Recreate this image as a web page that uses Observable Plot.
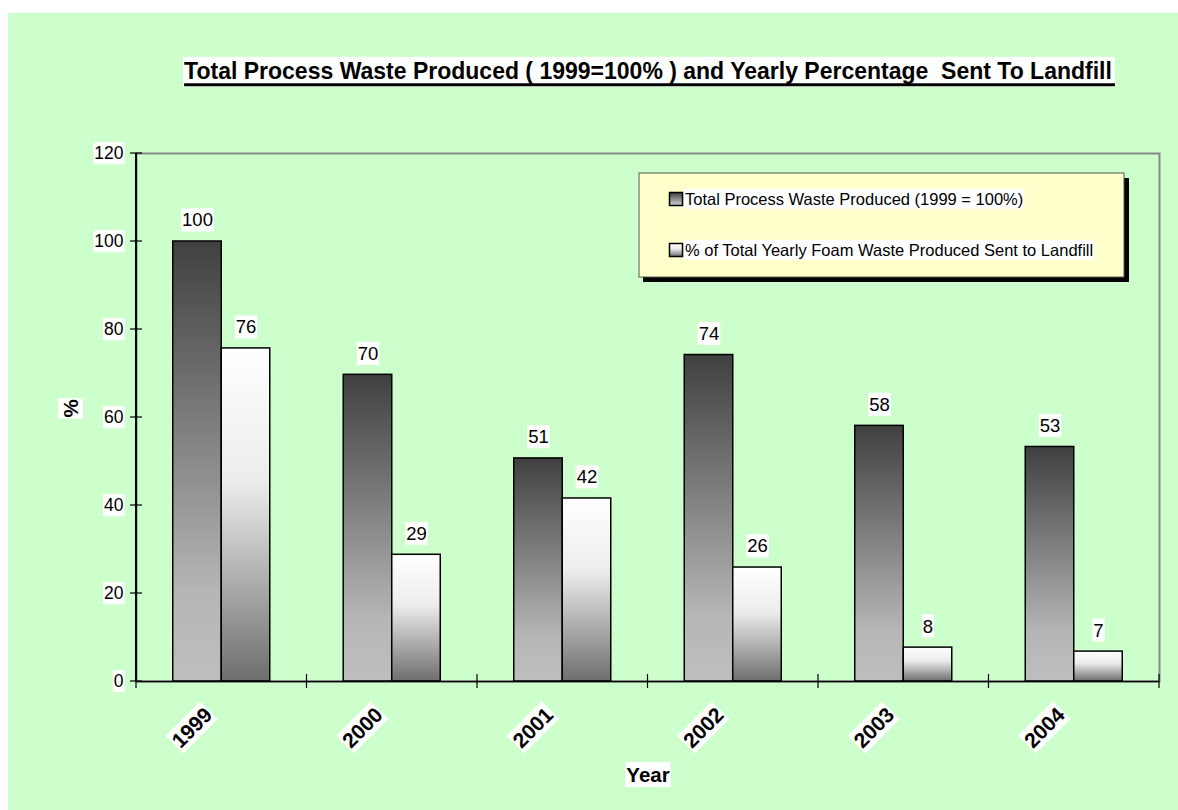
<!DOCTYPE html>
<html><head><meta charset="utf-8">
<script src="https://cdn.jsdelivr.net/npm/d3@7"></script>
<script src="https://cdn.jsdelivr.net/npm/@observablehq/plot@0.6"></script>
<style>body{margin:0;background:#fff;} svg{display:block;}</style>
</head><body><div id="chart"></div>
<script>
const years = ["1999", "2000", "2001", "2002", "2003", "2004"];
const totalWaste = [100, 69.7, 50.7, 74.2, 58.1, 53.3];
const landfill = [75.7, 28.8, 41.6, 25.9, 7.7, 6.8];
const yTicks = [0, 20, 40, 60, 80, 100, 120];
const seriesNames = ["Total Process Waste Produced (1999 = 100%)", "% of Total Yearly Foam Waste Produced Sent to Landfill"];
const titleText = "Total Process Waste Produced ( 1999=100% ) and Yearly Percentage  Sent To Landfill";
const xLabel = "Year";
const yLabel = "%";

const rows = years.flatMap((y, i) => [
  {year: y, series: "total", value: totalWaste[i]},
  {year: y, series: "landfill", value: landfill[i]}
]);
const fmt = d3.format(".0f");
const totalRows = rows.filter(d => d.series === "total");
const landRows = rows.filter(d => d.series === "landfill");
const FONT = "Liberation Sans, Arial, Helvetica, sans-serif";

const chart = Plot.plot({
  width: 1178,
  height: 810,
  marginTop: 153,
  marginRight: 19,
  marginBottom: 129,
  marginLeft: 136,
  style: {fontFamily: FONT, fontSize: "17px", background: "transparent", color: "black"},
  x: {type: "band", domain: years, paddingInner: 0.431, paddingOuter: 0.2155, round: false, axis: null},
  y: {domain: [0, 120], axis: null},
  marks: [
    Plot.frame({stroke: "#888888", strokeWidth: 2}),
    Plot.barY(totalRows, {x: "year", y: "value", fill: "url(#gDark)", stroke: "black", strokeWidth: 1.5, insetRight: 48.5}),
    Plot.barY(landRows, {x: "year", y: "value", fill: "url(#gLight)", stroke: "black", strokeWidth: 1.5, insetLeft: 48.5}),
    Plot.ruleY([0], {stroke: "black", strokeWidth: 1.5}),
    Plot.text(totalRows, {x: "year", y: "value", text: d => fmt(d.value), dx: -24.25, dy: -21, lineAnchor: "middle", fontSize: 18.5, fill: "black"}),
    Plot.text(landRows, {x: "year", y: "value", text: d => fmt(d.value), dx: 24.25, dy: -21, lineAnchor: "middle", fontSize: 18.5, fill: "black"}),
    Plot.text(yTicks, {y: d => d, text: d => String(d), frameAnchor: "left", dx: -13, textAnchor: "end", lineAnchor: "middle", fontSize: 17.5, fill: "black"}),
    Plot.text(years, {x: d => d, text: d => d, frameAnchor: "bottom", rotate: -45, textAnchor: "end", lineAnchor: "middle", dx: -13, dy: 30, fontSize: 21, fontWeight: "bold", fill: "black"}),
    Plot.text([xLabel], {frameAnchor: "bottom", dy: 94, lineAnchor: "middle", fontSize: 20.5, fontWeight: "bold", fill: "black"}),
    Plot.text([yLabel], {frameAnchor: "left", dx: -65, rotate: -90, lineAnchor: "middle", fontSize: 20.5, fontWeight: "bold", fill: "black"}),
    Plot.text([titleText], {frameAnchor: "top", dy: -82, lineAnchor: "middle", fontSize: 23, fontWeight: "bold", fill: "black"})
  ]
});
document.getElementById("chart").appendChild(chart);

const svg = d3.select(chart);
const defs = svg.insert("defs", ":first-child");
const gd = defs.append("linearGradient").attr("id", "gDark").attr("x1", 0).attr("y1", 0).attr("x2", 0).attr("y2", 1);
gd.append("stop").attr("offset", 0).attr("stop-color", "#404040");
gd.append("stop").attr("offset", 0.8).attr("stop-color", "#b6b6b6");
gd.append("stop").attr("offset", 1).attr("stop-color", "#bebebe");
const gl = defs.append("linearGradient").attr("id", "gLight").attr("x1", 0).attr("y1", 0).attr("x2", 0).attr("y2", 1);
gl.append("stop").attr("offset", 0).attr("stop-color", "#ffffff");
gl.append("stop").attr("offset", 0.4).attr("stop-color", "#ececec");
gl.append("stop").attr("offset", 1).attr("stop-color", "#6e6e6e");

// background panel
svg.insert("rect", "defs + *").attr("x", 8).attr("y", 13).attr("width", 1170).attr("height", 797).attr("fill", "#ccffcc");

// axis lines and ticks from Plot scales
const xs = chart.scale("x"), ys = chart.scale("y");
const gap = xs.step - xs.bandwidth;
const bounds = years.map(y => xs.apply(y) - gap / 2).concat([xs.apply(years[years.length - 1]) + xs.bandwidth + gap / 2]);
const axg = svg.append("g").attr("stroke", "black");
axg.append("line").attr("x1", bounds[0]).attr("x2", bounds[0]).attr("y1", ys.apply(120)).attr("y2", ys.apply(0)).attr("stroke-width", 2);
bounds.forEach(b => axg.append("line").attr("x1", b).attr("x2", b).attr("y1", ys.apply(0) - 7).attr("y2", ys.apply(0) + 7).attr("stroke-width", 1.2));
yTicks.forEach(v => axg.append("line").attr("x1", bounds[0] - 6).attr("x2", bounds[0] + 6).attr("y1", ys.apply(v)).attr("y2", ys.apply(v)).attr("stroke-width", 1.2));

// legend
const lg = svg.append("g").attr("font-family", FONT).attr("font-size", 16.5).attr("text-anchor", "start");
lg.append("rect").attr("x", 643).attr("y", 178).attr("width", 486).attr("height", 104).attr("fill", "black");
lg.append("rect").attr("x", 639).attr("y", 173).attr("width", 485).attr("height", 104).attr("fill", "#ffffcc").attr("stroke", "#555").attr("stroke-width", 1);
[["gDark", 199], ["gLight", 250]].forEach(([g, cy], i) => {
  lg.append("rect").attr("x", 669.5).attr("y", cy - 6.5).attr("width", 13).attr("height", 13).attr("fill", `url(#${g})`).attr("stroke", "black").attr("stroke-width", 1.5);
  lg.append("text").attr("x", 685).attr("y", cy).attr("dy", "0.35em").attr("fill", "black").text(seriesNames[i]);
});

// white boxes behind all texts; title gets preserved spaces and a thick underline
svg.selectAll("text").each(function() {
  const isTitle = this.textContent.trim() === titleText;
  if (isTitle) this.style.whiteSpace = "pre";
  const b = this.getBBox();
  const r = d3.select(this.parentNode).insert("rect", () => this)
    .attr("x", b.x - 1).attr("y", b.y - 1).attr("width", b.width + (isTitle ? 4 : 2)).attr("height", b.height + (isTitle ? 4 : 2))
    .attr("fill", "white");
  const t = this.getAttribute("transform");
  if (t) r.attr("transform", t);
  if (isTitle) {
    const ul = d3.select(this.parentNode).append("line").attr("x1", b.x).attr("x2", b.x + b.width + 3)
      .attr("y1", b.y + b.height + 1).attr("y2", b.y + b.height + 1).attr("stroke", "black").attr("stroke-width", 3);
    if (t) ul.attr("transform", t);
  }
});
</script>
</body></html>
